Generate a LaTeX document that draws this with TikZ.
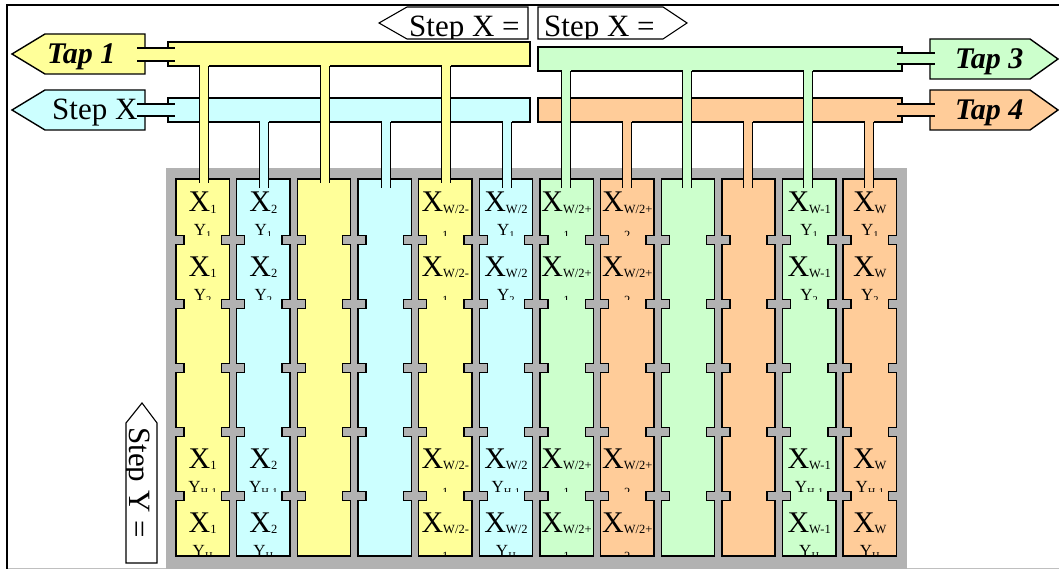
\documentclass[tikz,border=0pt]{standalone}
\usepackage{fontspec}
\setmainfont{Liberation Serif}
\definecolor{cyel}{HTML}{FFFF99}
\definecolor{ccya}{HTML}{CCFFFF}
\definecolor{cgrn}{HTML}{CCFFCC}
\definecolor{corg}{HTML}{FFCC99}
\definecolor{cgry}{HTML}{B2B2B2}
\tikzset{
  outl/.style={draw=black, line width=1.4pt},
  thinoutl/.style={draw=black, line width=1.1pt},
  bigtxt/.style={font=\fontsize{31}{31}\selectfont, inner sep=0pt, anchor=base west},
  taptxt/.style={font=\fontsize{30}{30}\selectfont\bfseries\itshape, inner sep=0pt, anchor=base west},
  xlab/.style={inner sep=0pt, anchor=base},
}
\newcommand\Xs[1]{{\fontsize{30}{30}\selectfont X}{\fontsize{12.5}{12.5}\selectfont\raisebox{-1.5pt}{#1}}}
\newcommand\Ys[1]{{\fontsize{17}{17}\selectfont Y}{\fontsize{10.5}{10.5}\selectfont\raisebox{-3pt}{#1}}}
\newcommand\Ws[1]{{\fontsize{12.5}{12.5}\selectfont #1}}
\newcommand\colpath[2]{({#1},179) -- ({#2},179)
  \foreach \c in {240,304,368,432,496} { -- ({#2},{\c-4.5}) -- ({#2-8},{\c-4.5}) -- ({#2-8},{\c+4.5}) -- ({#2},{\c+4.5}) }
  -- ({#2},556) -- ({#1},556)
  \foreach \c in {496,432,368,304,240} { -- ({#1},{\c+4.5}) -- ({#1+8},{\c+4.5}) -- ({#1+8},{\c-4.5}) -- ({#1},{\c-4.5}) }
  -- cycle}
\newcommand\vstem[4]{%
  \fill[#4] ({#1-4.5},{#2-2.5}) rectangle ({#1+4.5},{#3});
  \draw[outl] ({#1-4.5},{#2}) -- ({#1-4.5},{#3}) ({#1+4.5},{#2}) -- ({#1+4.5},{#3});}
\newcommand\hstem[5]{% xfill1, xfill2, ytop, ybot, color
  \fill[#5] ({#1},{#3}) rectangle ({#2},{#4});
  \draw[outl] ({#1-3},{#3}) -- ({#2+3},{#3}) ({#1-3},{#4}) -- ({#2+3},{#4});}
\newcommand\labcol[3]{%
  \pgfmathsetmacro\cL{176+60.65*#1}
  \pgfmathsetmacro\cR{\cL+53.3}
  \pgfmathsetmacro\cC{\cL+26.65}
  \foreach \r/\yb/\cb/\ys in {1/212/235.5/1, 2/276/299.5/2, 5/468/491.5/H-1, 6/532/555/H} {
    \begin{scope}
      \clip ({\cL},{\yb-40}) rectangle ({\cR},{\cb});
      \node[xlab] (x#1r\r) at ({\cC},{\yb}) {\Xs{#2}};
      \if\relax\detokenize{#3}\relax
        \node[xlab] (y#1r\r) at ({\cC},{\yb+24}) {\Ys{\ys}};
      \else
        \node[xlab] (w#1r\r) at ({\cC},{\yb+28}) {\Ws{#3}};
      \fi
    \end{scope}
  }}
\begin{document}
\begin{tikzpicture}[x=1pt,y=-1pt,line join=miter]
\useasboundingbox (0,0) rectangle (1059,569);
% frame
\draw[black!25, line width=1pt] (7,568) -- (1059,568);
\draw[black, line width=1.5pt] (1059,5) -- (7,5) -- (7,569);
% gray background
\fill[cgry] (166,168) rectangle (907,572);
% columns
\foreach \i/\cc in {0/cyel,1/ccya,2/cyel,3/ccya,4/cyel,5/ccya,6/cgrn,7/corg,8/cgrn,9/corg,10/cgrn,11/corg} {
  \pgfmathsetmacro\cL{176+60.65*\i}
  \pgfmathsetmacro\cR{\cL+53.3}
  \draw[outl, fill=\cc] \colpath{\cL}{\cR};
}
% buses
\draw[outl, fill=cyel] (168,42) rectangle (530,66);
\draw[outl, fill=ccya] (168,98) rectangle (530,122);
\draw[outl, fill=cgrn] (538,47) rectangle (902,71);
\draw[outl, fill=corg] (538,98) rectangle (902,122);
% vertical stems
\foreach \x in {264,386,507} { \vstem{\x}{122}{188}{ccya} }
\foreach \x in {627,748,869} { \vstem{\x}{122}{188}{corg} }
\foreach \x in {204,325,446} { \vstem{\x}{66}{183}{cyel} }
\foreach \x in {566,687,808} { \vstem{\x}{71}{188}{cgrn} }
% tap arrows
\draw[outl, fill=cyel] (145,34) -- (45,34) -- (12,54) -- (45,74) -- (145,74) -- cycle;
\draw[outl, fill=ccya] (145,90) -- (45,90) -- (12,110) -- (45,130) -- (145,130) -- cycle;
\draw[outl, fill=cgrn] (930,39) -- (1030,39) -- (1058,59) -- (1030,79) -- (930,79) -- cycle;
\draw[outl, fill=corg] (930,90) -- (1030,90) -- (1058,110) -- (1030,130) -- (930,130) -- cycle;
% horizontal stems
\hstem{140}{172}{48}{61}{cyel}
\hstem{140}{172}{104}{116}{ccya}
\hstem{900}{932}{53}{64}{cgrn}
\hstem{900}{932}{104}{116}{corg}
% tap texts
\node[taptxt] (tap1) at (47,64) {Tap 1};
\node[bigtxt] (stepx) at (52,120) {Step X};
\node[taptxt] (tap3) at (955,69) {Tap 3};
\node[taptxt] (tap4) at (955,120) {Tap 4};
% cell labels
\labcol{0}{1}{}
\labcol{1}{2}{}
\labcol{4}{W/2-}{1}
\labcol{5}{W/2}{}
\labcol{6}{W/2+}{1}
\labcol{7}{W/2+}{2}
\labcol{10}{W-1}{}
\labcol{11}{W}{}
% Step X = arrows
\fill[white] (528,7) -- (407,7) -- (379,23) -- (407,39) -- (528,39) -- cycle;
\begin{scope}
  \clip (528,7) -- (407,7) -- (379,23) -- (407,39) -- (528,39) -- cycle;
  \node[bigtxt] (sxl) at (409,37) {Step X =};
\end{scope}
\draw[thinoutl] (528,7) -- (407,7) -- (379,23) -- (407,39) -- (528,39) -- cycle;
\fill[white] (538,7) -- (663,7) -- (687,23) -- (663,39) -- (538,39) -- cycle;
\begin{scope}
  \clip (538,7) -- (663,7) -- (687,23) -- (663,39) -- (538,39) -- cycle;
  \node[bigtxt] (sxr) at (544,37) {Step X =};
\end{scope}
\draw[thinoutl] (538,7) -- (663,7) -- (687,23) -- (663,39) -- (538,39) -- cycle;
% Step Y = arrow
\fill[white] (142,403) -- (157,423) -- (157,563) -- (126,563) -- (126,423) -- cycle;
\begin{scope}
  \clip (142,403) -- (157,423) -- (157,563) -- (126,563) -- (126,423) -- cycle;
  \node[bigtxt, rotate=-90] (sy) at (129,427) {Step Y =};
\end{scope}
\draw[thinoutl] (142,403) -- (157,423) -- (157,563) -- (126,563) -- (126,423) -- cycle;
\end{tikzpicture}
\end{document}
